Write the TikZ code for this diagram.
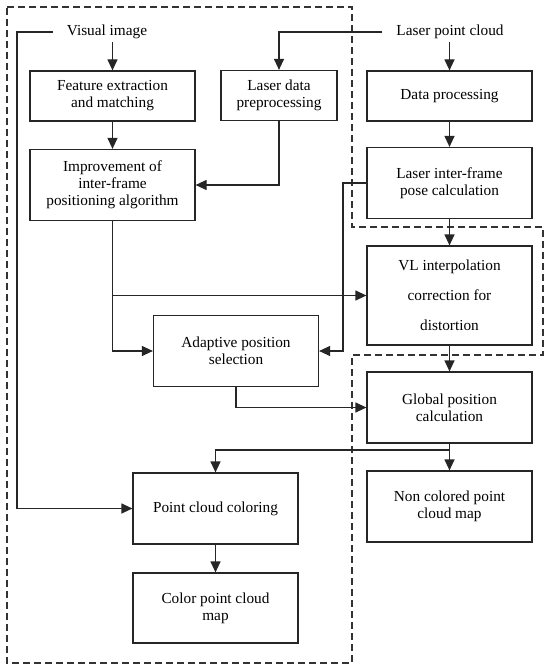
\documentclass[tikz,border=0pt]{standalone}
\usepackage{fontspec}
\setmainfont{Liberation Serif}
\usetikzlibrary{calc}
\usetikzlibrary{arrows.meta}
\tikzset{%
  block/.style = {draw=black!85, line width=1.2pt, rectangle, minimum width=165pt,
    minimum height=71pt, align=center, inner sep=2pt, font=\fontsize{15.3}{17}\selectfont},
  small/.style = {minimum height=50pt}, % one or two lines
  label/.style = {inner xsep=14pt, inner ysep=3pt, font=\fontsize{15.3}{17}\selectfont},
  line/.style  = {draw=black!85, line width=1.2pt},
  arr/.style   = {line, -{Triangle[length=11pt, width=10pt]}},
  region/.style = {draw=black!80, line width=1.1pt, dash pattern=on 7pt off 4pt}
}
\begin{document}
\begin{tikzpicture}[x=1pt, y=-1pt]
    \useasboundingbox (0, 0) rectangle (550, 671);

    %dashed region
    \draw[region](7, 7) -- (352, 7) -- (352, 227) -- (543, 227) -- (543, 355) -- (352, 355)
        -- (352, 663) -- (7, 663) -- cycle;

    %inputs
    \node[label] (vis) at (107, 32) {Visual image};
    \node[label] (lpc) at (450, 32) {Laser point cloud};

    %visual branch
    \node[block, small] (feat) at (112.5, 96) {Feature extraction\\and matching};
    \node[block, small, minimum width=116pt] (lpre) at (279, 95.5) {Laser data\\preprocessing};
    \node[block] (impr) at (112.5, 185) {Improvement of\\inter-frame\\positioning algorithm};
    \node[block] (adapt) at (236, 351) {Adaptive position\\selection};

    %laser branch
    \node[block, small] (dproc) at (449.5, 96) {Data processing};
    \node[block] (lpose) at (449.5, 183) {Laser inter-frame\\pose calculation};
    \node[block, minimum height=99pt] (vl) at (449.5, 295.5) {VL interpolation\\[13pt]correction for\\[13pt]distortion};
    \node[block] (glob) at (449.5, 407.5) {Global position\\calculation};

    %maps
    \node[block] (pcc) at (215.5, 508.5) {Point cloud coloring};
    \node[block, minimum height=70pt] (cmap) at (215.5, 608) {Color point cloud\\map};
    \node[block] (ncmap) at (449.5, 506.5) {Non colored point\\cloud map};

    \coordinate (lft) at (17, 32);
    \coordinate (pbend) at (343, 183);
    \coordinate (split) at (449.5, 450);

    %connectors
    \draw[arr] (vis.south -| feat) -- (feat);
    \draw[arr] (vis.west) -- (lft) |- (pcc);
    \draw[arr] (lpc.west) -| (lpre);
    \draw[arr] (lpc.south -| dproc) -- (dproc);
    \draw[arr] (feat) -- (impr);
    \draw[arr] (lpre) |- (impr);
    \draw[arr] (dproc) -- (lpose);
    \draw[arr] (impr) |- (adapt);
    \draw[arr] (impr.south |- vl) -- (vl);
    \draw[arr] (lpose.west) -- (pbend) |- (adapt);
    \draw[arr] (lpose) -- (vl);
    \draw[arr] (vl) -- (glob);
    \draw[arr] (adapt) |- (glob);
    \draw[line] (glob) -- (split);
    \draw[arr] (split) -| (pcc);
    \draw[arr] (split) -- (ncmap);
    \draw[arr] (pcc) -- (cmap);
\end{tikzpicture}
\end{document}
